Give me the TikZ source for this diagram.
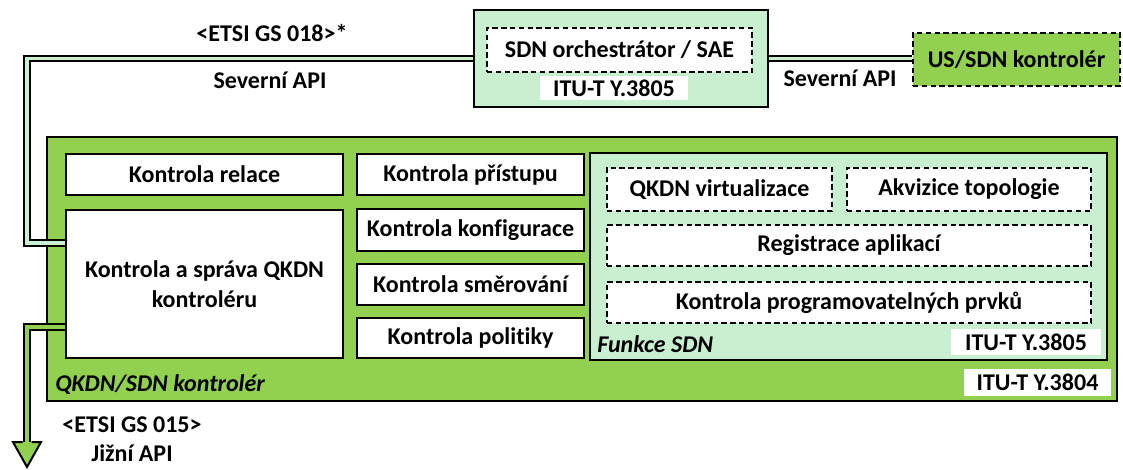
\documentclass[tikz,border=0pt]{standalone}
\usepackage{fontspec}
\setmainfont{Carlito}[RawFeature={-liga}]
\usetikzlibrary{fit}
\definecolor{qgreen}{RGB}{146,208,80}
\definecolor{lgreen}{RGB}{200,240,208}
\newcommand\myfs{\fontsize{18}{22.5}\selectfont}
\begin{document}
\begin{tikzpicture}[x=0.75pt,y=-0.75pt, font=\myfs\bfseries,
  box/.style={draw, line width=1.6pt, fill=white, inner sep=0pt},
  dbox/.style={draw, line width=1.6pt, dash pattern=on 4pt off 2.6pt, fill=white, inner sep=0pt},
  tag/.style={fill=white, inner sep=0pt},
  lbl/.style={inner sep=0pt, align=center},
  ital/.style={font=\myfs\bfseries\itshape},
  nb/.style={line width=1.5pt, double=lgreen, double distance=2.4pt},
  sb/.style={line width=1.5pt, double=qgreen, double distance=2.4pt}]
\useasboundingbox (0,0) rectangle (1123,469);

% orchestrator
\node[box, fill=lgreen, fit={(474,10) (768,107)}] (orch) {};
\node[dbox, fit={(487,28) (752,72)}, label={[lbl]center:SDN orchestrátor / SAE}] (sae) {};
\node[tag, fit={(540,76) (688,100)}, label={[lbl]center:ITU-T Y.3805}] (t3805a) {};

% US/SDN controller
\node[dbox, fill=qgreen, fit={(913,33) (1120,86)}, label={[lbl]center:US/SDN kontrolér}] (us) {};

% main controller box
\node[box, fill=qgreen, fit={(47,137) (1117,401)}] (main) {};
\node[ital, lbl, anchor=west] (mainlbl) at (55,385) {QKDN/SDN kontrolér};
\node[tag, fit={(964,369) (1111,396)}, label={[lbl]center:ITU-T Y.3804}] (t3804) {};

% left column
\node[box, fit={(66,154) (343,195)}, label={[lbl]center:Kontrola relace}] (rel) {};
\node[box, fit={(66,210) (343,358)}, label={[lbl]center:Kontrola a správa QKDN\\kontroléru}] (ksa) {};

% middle column
\node[box, fit={(357,154) (584,195)}, label={[lbl]center:Kontrola přístupu}] (pri) {};
\node[box, fit={(357,209) (584,251)}, label={[lbl]center:Kontrola konfigurace}] (konf) {};
\node[box, fit={(357,264) (584,305)}, label={[lbl]center:Kontrola směrování}] (sme) {};
\node[box, fit={(357,318) (584,358)}, label={[lbl]center:Kontrola politiky}] (pol) {};

% SDN functions
\node[box, fill=lgreen, fit={(590,153) (1107,360)}] (fsdn) {};
\node[dbox, fit={(607,168) (832,211)}, label={[lbl]center:QKDN virtualizace}] (virt) {};
\node[dbox, fit={(847,168) (1091,211)}, label={[lbl]center:Akvizice topologie}] (akv) {};
\node[dbox, fit={(607,225) (1091,266)}, label={[lbl]center:Registrace aplikací}] (reg) {};
\node[dbox, fit={(607,282) (1091,323)}, label={[lbl]center:Kontrola programovatelných prvků}] (prog) {};
\node[ital, lbl, anchor=west] (fsdnlbl) at (597,344) {Funkce SDN};
\node[tag, fit={(951,329) (1101,355)}, label={[lbl]center:ITU-T Y.3805}] (t3805b) {};

% connectors
\coordinate (nbturn) at (27,243);
\coordinate (sbturn) at (27,327);
\coordinate (sbend) at (27,443);
\draw[nb] (orch.west) -| (nbturn) -- (ksa.west |- nbturn);
\draw[nb] (orch.east) -- (orch.east -| us.west);
\draw[sb] (ksa.west |- sbturn) -| (sbend);
\fill[qgreen] (13,442) -- (41,442) -- (27,467) -- cycle;
\draw[line width=1.5pt, line join=miter] (22.5,442) -- (13,442) -- (27,467) -- (41,442) -- (31.5,442);

% labels
\node[lbl] (etsi18) at (272,33) {<ETSI GS 018>*};
\node[lbl] (sevl) at (270,80) {Severní API};
\node[lbl] (sevr) at (840,78) {Severní API};
\node[lbl] (etsi15) at (132,425) {<ETSI GS 015>};
\node[lbl] (jiz) at (132,453) {Jižní API};
\end{tikzpicture}
\end{document}
